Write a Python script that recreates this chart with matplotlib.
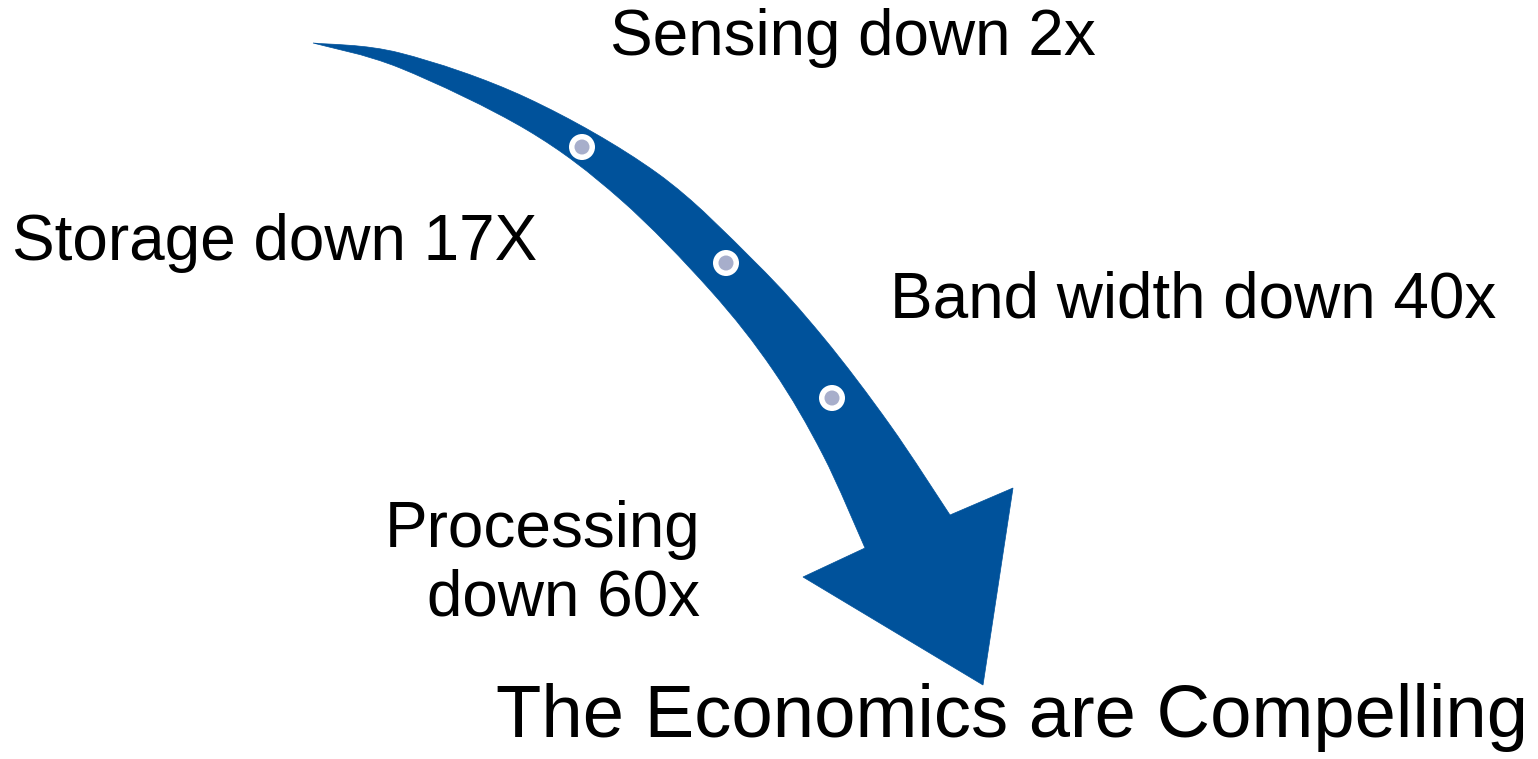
import matplotlib
matplotlib.use("Agg")
import matplotlib.pyplot as plt
from matplotlib.path import Path
from matplotlib.patches import PathPatch, Circle

plt.rcParams['font.family'] = ['Liberation Sans', 'DejaVu Sans']

W, H = 1538, 759
ARROW_BLUE = "#00529B"
DOT_FILL = "#A7AECB"

# Curved arrow outline (pixel space, y downward)
outer_edge = [(313, 43), (400, 53), (527, 98), (657, 173), (755, 262),
              (823, 337), (890, 425), (950, 515)]
head = [(1013, 488), (983, 685), (803, 577)]
inner_edge = [(313, 43), (400, 68), (527, 130), (620, 199), (710, 290),
              (773, 370), (823, 455), (865, 548)]

dots = [(582, 147), (726, 263), (832, 398)]

labels = [
    ("Sensing down 2x", 610, 38, "left"),
    ("Storage down 17X", 12, 243, "left"),
    ("Band width down 40x", 890, 300, "left"),
    ("Processing", 700, 530, "right"),
    ("down 60x", 700, 598, "right"),
]
title = "The Economics are Compelling"


def smooth_segments(pts):
    """Cubic Bezier control points through pts (Catmull-Rom style)."""
    verts = []
    n = len(pts)
    for i in range(n - 1):
        p0 = pts[max(i - 1, 0)]
        p1 = pts[i]
        p2 = pts[i + 1]
        p3 = pts[min(i + 2, n - 1)]
        c1 = (p1[0] + (p2[0] - p0[0]) / 6, p1[1] + (p2[1] - p0[1]) / 6)
        c2 = (p2[0] - (p3[0] - p1[0]) / 6, p2[1] - (p3[1] - p1[1]) / 6)
        verts += [c1, c2, p2]
    return verts


fig = plt.figure(figsize=(W / 100, H / 100), dpi=100)
ax = fig.add_axes([0, 0, 1, 1])
ax.set_xlim(0, W)
ax.set_ylim(H, 0)
ax.axis("off")

verts = [outer_edge[0]]
codes = [Path.MOVETO]
curve = smooth_segments(outer_edge)
verts += curve
codes += [Path.CURVE4] * len(curve)
inner_rev = inner_edge[::-1]
for p in head + [inner_rev[0]]:
    verts.append(p)
    codes.append(Path.LINETO)
curve = smooth_segments(inner_rev)
verts += curve
codes += [Path.CURVE4] * len(curve)
verts.append(outer_edge[0])
codes.append(Path.CLOSEPOLY)

ax.add_patch(PathPatch(Path(verts, codes), facecolor=ARROW_BLUE,
                       edgecolor=ARROW_BLUE, linewidth=0.5))

for (x, y) in dots:
    ax.add_patch(Circle((x, y), 13, facecolor="white", edgecolor="none", zorder=3))
    ax.add_patch(Circle((x, y), 7.5, facecolor=DOT_FILL, edgecolor="none", zorder=4))

for text, x, y, ha in labels:
    ax.text(x, y, text, fontsize=46, ha=ha, va="center", color="black")

ax.text(1528, 717, title, fontsize=53.5, ha="right", va="center", color="black")

fig.savefig("out.png", dpi=100)
